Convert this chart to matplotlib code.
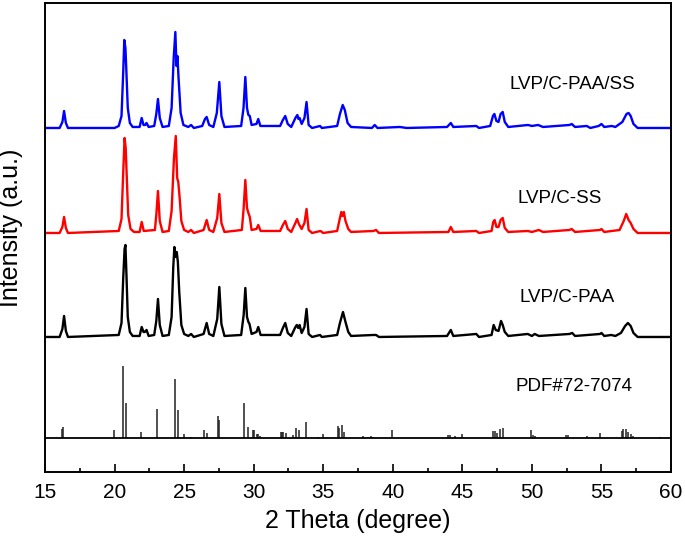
import matplotlib
matplotlib.use('agg')
import matplotlib.pyplot as plt
import numpy as np

plt.rcParams['font.family'] = ['Liberation Sans', 'DejaVu Sans']

# ---- data (intensity in a.u.) ----
tt_paa_ss = [15.0, 16.05, 16.25, 16.37, 16.5, 16.65, 20.0, 20.3, 20.5, 20.62, 20.70, 20.78, 20.84, 20.95,
             21.1, 21.3, 21.8, 21.95, 22.08, 22.2, 22.3, 22.45, 22.85, 23.0, 23.12, 23.25, 23.45, 23.9,
             24.1, 24.25, 24.37, 24.45, 24.52, 24.6, 24.75, 24.95, 25.3, 25.5, 25.7, 26.3, 26.5, 26.62,
             26.8, 27.1, 27.35, 27.53, 27.68, 27.9, 29.1, 29.27, 29.4, 29.52, 29.62, 29.72, 29.85, 30.2,
             30.33, 30.48, 31.9, 32.1, 32.27, 32.45, 32.7, 33.0, 33.14, 33.22, 33.3, 33.45, 33.65, 33.8,
             33.95, 34.2, 34.77, 34.9, 36.0, 36.2, 36.4, 36.55, 36.75, 37.0, 38.5, 38.7, 38.9, 40.5,
             41.0, 43.9, 44.17, 44.35, 46.0, 46.2, 47.0, 47.2, 47.3, 47.45, 47.6, 47.75, 47.9, 48.05,
             48.3, 49.72, 50.0, 50.44, 50.8, 52.7, 52.86, 53.1, 53.94, 54.2, 54.8, 55.0, 55.2, 55.74,
             56.0, 56.5, 56.8, 56.95, 57.1, 57.3, 57.6, 60.0]
int_paa_ss = [0, 0, 6, 17, 5, 0, 0, 2, 12, 55, 88, 80, 60, 20,
              5, 1, 1, 10, 3, 3, 5, 1, 2, 14, 29, 10, 1, 2,
              20, 70, 96, 62, 72, 50, 15, 3, 1, 3, 0, 2, 9, 11,
              3, 1, 15, 46, 12, 1, 2, 20, 51, 20, 13, 12, 3, 4,
              9, 2, 2, 8, 12, 4, 1, 10, 13, 9, 10, 4, 10, 26,
              3, 0, 2, 0, 2, 14, 23, 18, 5, 1, 0, 3, 0, 1,
              0, 1, 5, 1, 2, 0, 2, 12, 14, 7, 6, 14, 16, 6,
              1, 3, 2, 3, 1, 3, 4, 1, 2, 0, 2, 4, 1, 2,
              1, 6, 14, 15, 12, 4, 0, 0]

tt_ss = [15.0, 16.05, 16.25, 16.37, 16.5, 16.65, 20.3, 20.5, 20.62, 20.72, 20.8, 20.88, 20.98, 21.15,
         21.4, 21.8, 21.95, 22.1, 22.9, 23.0, 23.12, 23.25, 23.45, 23.9, 24.1, 24.27, 24.4, 24.5,
         24.58, 24.68, 24.8, 25.0, 25.3, 25.5, 25.7, 26.4, 26.62, 26.8, 27.1, 27.38, 27.53, 27.68,
         27.9, 29.15, 29.28, 29.4, 29.52, 29.62, 29.72, 29.85, 30.2, 30.33, 30.5, 31.9, 32.1, 32.27,
         32.45, 32.7, 33.0, 33.12, 33.25, 33.45, 33.65, 33.8, 33.95, 34.2, 34.8, 35.0, 36.0, 36.2,
         36.3, 36.38, 36.48, 36.6, 36.8, 37.0, 38.6, 38.8, 39.0, 44.0, 44.17, 44.35, 46.0, 46.2,
         47.1, 47.22, 47.32, 47.45, 47.6, 47.75, 47.9, 48.05, 48.3, 49.7, 50.0, 50.5, 50.8, 52.7,
         52.86, 53.1, 54.9, 55.0, 55.2, 56.3, 56.6, 56.78, 56.95, 57.1, 57.3, 57.6, 60.0]
int_ss = [0, 0, 6, 16, 5, 0, 2, 14, 60, 95, 85, 55, 18, 4,
          1, 1, 11, 2, 3, 18, 42, 12, 1, 2, 22, 75, 97, 55,
          51, 35, 12, 3, 1, 3, 0, 3, 13, 3, 1, 15, 39, 10,
          1, 3, 25, 53, 25, 20, 16, 3, 4, 8, 2, 2, 8, 12,
          4, 1, 10, 14, 9, 4, 10, 24, 3, 0, 2, 0, 2, 15,
          21, 17, 21, 12, 4, 1, 2, 3, 0, 1, 6, 1, 2, 0,
          2, 11, 13, 6, 6, 13, 15, 5, 1, 2, 1, 3, 1, 3,
          4, 1, 3, 4, 1, 3, 12, 19, 13, 10, 4, 0, 0]

tt_paa = [15.0, 16.05, 16.25, 16.37, 16.5, 16.65, 20.3, 20.5, 20.62, 20.72, 20.78, 20.86, 20.95, 21.1,
          21.3, 21.8, 21.95, 22.08, 22.18, 22.3, 22.45, 22.85, 23.0, 23.12, 23.25, 23.45, 23.9, 24.1,
          24.22, 24.3, 24.38, 24.47, 24.55, 24.65, 24.8, 25.0, 25.3, 25.5, 25.7, 26.4, 26.62, 26.8,
          27.1, 27.38, 27.53, 27.68, 27.9, 29.1, 29.28, 29.4, 29.52, 29.62, 29.7, 29.85, 30.2, 30.33,
          30.5, 31.9, 32.1, 32.27, 32.45, 32.7, 33.0, 33.1, 33.2, 33.3, 33.45, 33.65, 33.8, 33.95,
          34.2, 34.77, 34.9, 36.0, 36.2, 36.42, 36.6, 36.8, 37.0, 38.6, 38.8, 39.0, 43.9, 44.17,
          44.35, 46.0, 46.2, 47.1, 47.25, 47.4, 47.6, 47.78, 47.9, 48.05, 48.3, 49.7, 50.0, 50.2,
          50.5, 52.7, 52.9, 53.1, 54.9, 55.0, 55.2, 55.7, 56.0, 56.4, 56.7, 56.9, 57.1, 57.3,
          57.6, 60.0]
int_paa = [0, 0, 8, 21, 6, 0, 2, 14, 58, 88, 92, 60, 20, 5,
           1, 1, 10, 5, 5, 7, 1, 2, 16, 38, 12, 1, 2, 20,
           70, 90, 80, 85, 75, 45, 12, 3, 1, 3, 0, 3, 14, 3,
           1, 18, 50, 13, 1, 2, 22, 49, 20, 15, 13, 3, 5, 10,
           2, 2, 9, 14, 4, 1, 10, 12, 9, 12, 4, 10, 28, 3,
           0, 2, 0, 2, 14, 25, 15, 5, 1, 2, 2, 0, 1, 7,
           1, 3, 0, 2, 12, 7, 6, 16, 12, 5, 1, 3, 1, 3,
           1, 3, 4, 1, 3, 4, 1, 2, 1, 4, 11, 14, 11, 4,
           0, 0]

# reference card PDF#72-7074
pdf_pos = [16.25, 16.32, 19.96, 20.63, 20.82, 21.9, 23.05, 24.32, 24.54, 24.97, 25.47, 26.45, 26.62,
           27.41, 27.53, 29.33, 29.62, 29.93, 30.0, 30.22, 30.33, 30.46, 31.94, 32.06, 32.13, 32.33,
           32.85, 33.04, 33.24, 33.74, 34.6, 34.96, 36.04, 36.16, 36.33, 36.5, 37.84, 38.2, 38.4,
           38.6, 39.97, 44.0, 44.1, 44.47, 44.95, 47.18, 47.35, 47.52, 47.71, 47.9, 49.92, 50.06,
           50.23, 52.46, 52.6, 53.94, 54.9, 56.46, 56.58, 56.75, 56.9, 57.1, 57.3, 59.2]
pdf_int = [9, 11, 8, 72, 35, 6, 29, 59, 28, 4, 1, 8, 5,
           22, 18, 35, 11, 8, 8, 4, 4, 2, 6, 6, 6, 5,
           3, 10, 8, 16, 1, 4, 12, 10, 13, 6, 2, 1, 2,
           1, 8, 3, 3, 2, 4, 7, 7, 5, 9, 10, 8, 3,
           2, 3, 3, 2, 5, 7, 9, 9, 6, 4, 2, 1]

labels = ["LVP/C-PAA/SS", "LVP/C-SS", "LVP/C-PAA", "PDF#72-7074"]

# vertical offsets for stacking
off_paa_ss = 344
off_ss = 239
off_paa = 135
off_pdf = 34

# ---- plot ----
fig = plt.figure(figsize=(6.85, 5.42), dpi=100)
ax = fig.add_axes([0.0657, 0.1292, 0.9139, 0.8653])

ax.plot(tt_paa_ss, np.array(int_paa_ss) + off_paa_ss, color='#0000ff', lw=1.7)
ax.plot(tt_ss, np.array(int_ss) + off_ss, color='#ff0000', lw=1.7)
ax.plot(tt_paa, np.array(int_paa) + off_paa, color='black', lw=1.7)
ax.vlines(pdf_pos, off_pdf, np.array(pdf_int) + off_pdf, color='#222222', lw=1.1)
ax.axhline(off_pdf, color='black', lw=1.3)

ax.text(52.9, 387, labels[0], fontsize=13.5, ha='center', va='center')
ax.text(52.0, 273, labels[1], fontsize=13.5, ha='center', va='center')
ax.text(52.5, 174, labels[2], fontsize=13.5, ha='center', va='center')
ax.text(53.0, 85, labels[3], fontsize=13.5, ha='center', va='center')

ax.set_xlim(15, 60)
ax.set_ylim(0, 469)
ax.set_xticks(np.arange(15, 61, 5))
ax.set_xticks(np.arange(17.5, 60, 5), minor=True)
ax.set_yticks([])
ax.tick_params(axis='x', which='major', direction='in', length=6, width=1.2, labelsize=15, pad=8)
ax.tick_params(axis='x', which='minor', direction='in', length=3, width=1.2)
for s in ax.spines.values():
    s.set_linewidth(1.4)

ax.set_xlabel("2 Theta (degree)", fontsize=18, labelpad=5)
ax.set_ylabel("Intensity (a.u.)", fontsize=18)
ax.yaxis.set_label_coords(-0.035, 0.52)

plt.savefig("out.png", dpi=100)
